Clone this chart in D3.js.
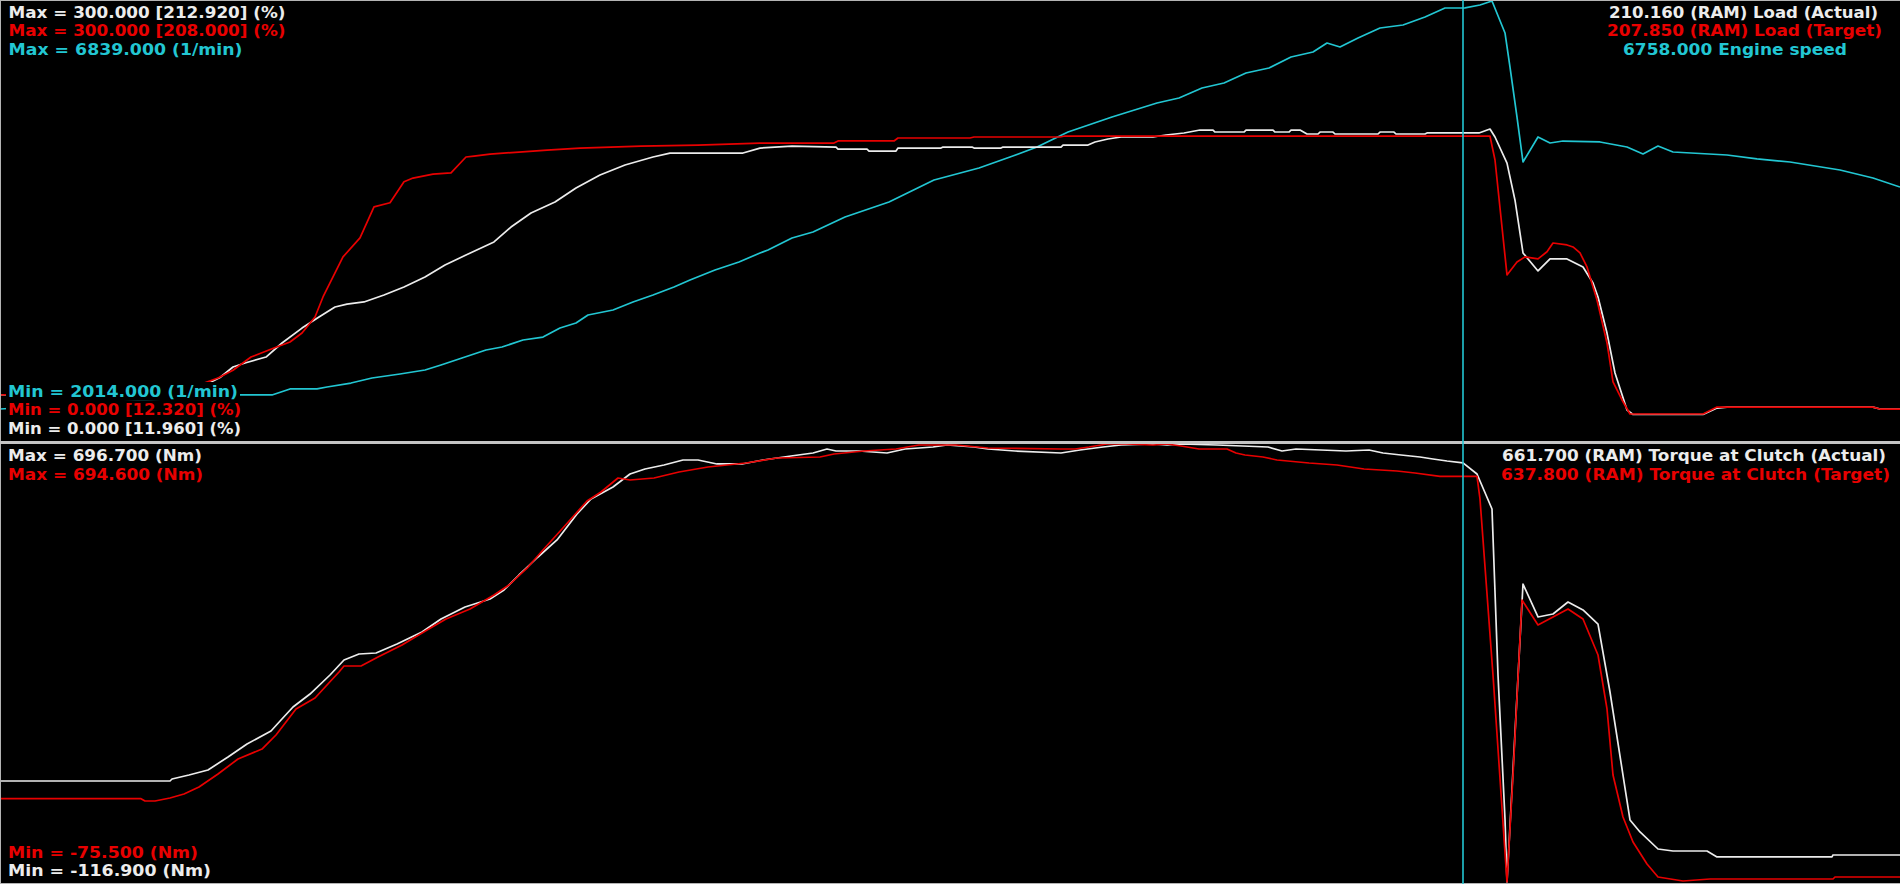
<!DOCTYPE html>
<html>
<head>
<meta charset="utf-8">
<script src="https://cdn.jsdelivr.net/npm/d3@7"></script>
<style>
  html, body { margin: 0; padding: 0; background: #000; overflow: hidden; }
  text { font-family: "DejaVu Sans", "Noto Sans", sans-serif; font-size: 15.5px; font-weight: bold; }
</style>
</head>
<body>
<div id="chart"></div>
<script>
// ---- data (time in s) ----
var loadTgtTime = [0, 2.0, 2.18, 2.33, 2.51, 2.74, 2.90, 3.02, 3.15, 3.23, 3.35, 3.43, 3.60, 3.74, 3.90, 4.04, 4.13, 4.33, 4.51, 4.66,
  4.74, 4.90, 5.19, 5.47, 5.80, 6.41, 6.98, 7.60, 8.34, 8.38, 8.94, 8.98, 9.70, 9.74, 10.60, 10.65, 14.90, 14.95, 15.07, 15.17,
  15.25, 15.38, 15.47, 15.53, 15.67, 15.73, 15.80, 15.87, 15.97, 16.07, 16.13, 16.22, 16.30, 17.03, 17.17, 18.73, 18.80, 19.0];
var loadTgt = [25.7, 33.0, 37.7, 43.1, 52.4, 58.8, 63.0, 69.3, 80.6, 94.7, 111.6, 122.9, 136.3, 158.1, 161.0, 175.8, 178.4, 181.2, 182.0, 193.2,
  193.9, 195.3, 196.7, 198.1, 199.5, 200.9, 201.6, 203.0, 203.0, 204.5, 204.5, 206.6, 206.6, 207.3, 207.3, 208.0, 207.85, 191.1, 110.2, 119.3,
  122.9, 121.5, 126.5, 132.7, 131.3, 129.9, 125.7, 115.8, 92.6, 62.3, 34.9, 22.2, 12.32, 12.32, 17.2, 17.2, 15.8, 15.8];

var loadActTime = [0, 2.0, 2.20, 2.33, 2.45, 2.66, 2.82, 3.02, 3.19, 3.35, 3.47, 3.64, 3.84, 4.04, 4.25, 4.45, 4.66, 4.94, 5.11, 5.31,
  5.55, 5.76, 6.00, 6.25, 6.53, 6.70, 7.43, 7.60, 7.92, 8.36, 8.38, 8.67, 8.69, 8.96, 8.98, 9.41, 9.43, 9.72, 9.74, 10.01,
  10.03, 10.61, 10.63, 10.88, 10.95, 11.08, 11.21, 11.53, 11.66, 11.84, 12.00, 12.13, 12.15, 12.44, 12.46, 12.73, 12.75, 12.89, 12.91, 13.00,
  13.07, 13.18, 13.20, 13.33, 13.35, 13.78, 13.80, 13.94, 13.96, 14.25, 14.27, 14.79, 14.90, 14.95, 15.07, 15.15, 15.23, 15.38, 15.50, 15.67,
  15.83, 15.93, 15.98, 16.07, 16.15, 16.27, 16.33, 17.03, 17.17, 17.27, 18.73, 18.80, 19.0];
var loadAct = [25.7, 31.0, 38.0, 45.4, 48.2, 52.4, 62.3, 72.8, 80.6, 87.6, 89.7, 91.2, 96.1, 101.7, 108.8, 117.2, 124.3, 133.4, 143.9, 153.8,
  161.5, 171.4, 180.5, 187.6, 193.2, 196.0, 196.0, 199.5, 200.9, 200.2, 198.8, 198.8, 197.4, 197.4, 199.5, 199.5, 200.2, 200.2, 199.5, 199.5,
  200.2, 200.2, 201.6, 201.6, 203.8, 205.9, 207.3, 207.3, 208.7, 210.1, 212.2, 212.2, 210.8, 210.8, 212.2, 212.2, 210.8, 210.8, 212.2, 212.2,
  209.4, 209.4, 210.8, 210.8, 209.4, 209.4, 210.8, 210.8, 209.4, 209.4, 210.16, 210.16, 212.92, 207.3, 188.9, 162.8, 125.7, 113.0, 121.5, 121.5,
  115.8, 104.5, 94.7, 69.3, 41.2, 15.1, 11.96, 11.96, 16.5, 17.2, 17.2, 15.8, 15.8];

var rpmTime = [0, 1.2, 2.25, 2.72, 2.90, 3.17, 3.27, 3.51, 3.72, 4.00, 4.25, 4.41, 4.62, 4.86, 5.02, 5.23, 5.43, 5.60, 5.76, 5.88,
  6.13, 6.33, 6.53, 6.74, 6.90, 7.15, 7.39, 7.60, 7.68, 7.92, 8.13, 8.45, 8.89, 9.34, 9.79, 10.10, 10.37, 10.68, 11.12, 11.57,
  11.79, 12.02, 12.24, 12.46, 12.69, 12.91, 13.13, 13.27, 13.40, 13.58, 13.80, 14.03, 14.25, 14.45, 14.65,
  14.80, 14.92, 15.05, 15.10, 15.17, 15.23, 15.38, 15.50, 15.63, 16.00, 16.27, 16.43, 16.58, 16.73, 17.27, 17.57, 17.90, 18.40, 18.73, 19.0];
var rpm = [2014, 2097, 2180, 2180, 2251, 2251, 2274, 2321, 2381, 2428, 2475, 2534, 2617, 2712, 2747, 2830, 2865, 2972, 3031, 3126,
  3185, 3279, 3362, 3457, 3540, 3658, 3752, 3859, 3894, 4036, 4107, 4285, 4462, 4722, 4864, 4994, 5112, 5290, 5467, 5633,
  5692, 5810, 5869, 5988, 6047, 6177, 6236, 6342, 6295, 6401, 6520, 6555, 6650, 6756, 6758,
  6792, 6839, 6461, 6058, 5467, 4935, 5231, 5160, 5183, 5172, 5112, 5030, 5124, 5053, 5018, 4971, 4935, 4840, 4746, 4639];

var tqActTime = [0, 1.70, 1.72, 1.89, 2.08, 2.28, 2.47, 2.71, 2.81, 2.93, 3.10, 3.30, 3.44, 3.59, 3.76, 3.97, 4.22, 4.41, 4.65, 4.90,
  5.04, 5.19, 5.38, 5.57, 5.77, 5.91, 6.13, 6.30, 6.45, 6.64, 6.83, 6.98, 7.17, 7.42, 7.63, 7.91, 8.13, 8.27, 8.36, 8.59,
  8.87, 9.05, 9.33, 9.47, 9.74, 9.88, 10.15, 10.61, 10.80, 11.03, 11.21, 11.53, 11.67, 11.81, 12.17, 12.68, 12.82, 12.96, 13.46, 13.69,
  13.83, 14.01, 14.20, 14.33, 14.47, 14.63, 14.77, 14.92, 14.98, 15.05, 15.07, 15.23, 15.38, 15.53, 15.68, 15.83, 15.98, 16.10, 16.30, 16.40,
  16.58, 16.73, 17.07, 17.17, 18.32, 18.33, 19.0];
var tqAct = [70.7, 70.7, 74.4, 81.9, 91.2, 115.3, 139.4, 163.6, 184.0, 208.2, 232.3, 267.6, 295.5, 306.6, 308.5, 325.2, 347.5, 371.6, 393.9, 408.8,
  425.5, 453.4, 486.8, 518.4, 566.7, 594.5, 616.8, 641.0, 650.3, 657.7, 667.0, 667.0, 659.6, 659.6, 667.0, 674.4, 680.0, 687.4, 683.7, 683.7,
  680.0, 687.4, 691.1, 694.8, 691.1, 687.4, 683.7, 680.0, 685.6, 691.1, 694.8, 696.7, 694.8, 696.7, 694.8, 691.1, 683.7, 687.4, 683.7, 685.6,
  680.0, 676.3, 672.6, 668.8, 665.1, 661.7, 641.0, 576.0, 267.6, 0.1, -116.9, 436.6, 375.4, 380.9, 403.2, 388.4, 362.3, 236.0, -1.7, -24.0,
  -55.6, -59.3, -59.3, -70.4, -70.4, -66.7, -66.7];

var tqTgtTime = [0, 1.41, 1.45, 1.55, 1.70, 1.84, 1.99, 2.18, 2.38, 2.62, 2.76, 2.96, 3.15, 3.39, 3.44, 3.61, 3.78, 4.02, 4.27, 4.46,
  4.70, 4.94, 5.09, 5.28, 5.43, 5.62, 5.87, 6.01, 6.18, 6.30, 6.54, 6.79, 7.08, 7.46, 7.77, 8.20, 8.34, 8.64, 8.96, 9.19,
  9.56, 9.88, 10.61, 10.75, 10.89, 11.07, 11.26, 11.53, 11.67, 11.81, 11.99, 12.27, 12.36, 12.45, 12.63, 12.77, 13.09, 13.37, 13.64, 13.97,
  14.15, 14.40, 14.77, 14.80, 14.93, 15.07, 15.13, 15.22, 15.38, 15.53, 15.68, 15.83, 15.98, 16.07, 16.13, 16.23, 16.33, 16.47, 16.58, 16.83,
  17.10, 18.33, 18.35, 19.0];
var tqTgt = [71.0, 71.0, 66.9, 66.9, 72.2, 79.2, 91.5, 114.4, 140.8, 158.3, 183.0, 228.7, 248.0, 293.7, 304.3, 304.3, 320.1, 341.2, 367.6, 386.9,
  404.5, 429.1, 446.7, 478.3, 508.2, 545.2, 594.4, 610.2, 634.8, 631.3, 634.8, 645.4, 654.2, 661.2, 670.0, 671.7, 677.0, 682.3, 685.8, 692.8,
  692.8, 687.6, 685.8, 685.8, 689.3, 694.6, 694.6, 692.8, 694.6, 691.1, 685.8, 685.8, 678.8, 675.3, 671.7, 666.5, 661.2, 657.7, 650.6, 647.1,
  643.6, 637.8, 637.8, 597.9, 288.5, -75.5, 112.6, 420.3, 376.4, 390.4, 404.5, 386.9, 323.6, 228.7, 112.6, 38.8, -5.2, -43.8, -66.7, -73.7,
  -70.2, -70.2, -66.7, -66.7];

var cursorTime = 14.63;

// axis limits shown in the labels
var loadDomain = [0, 300];
var rpmDomain = [2014, 6839];
var tqActDomain = [-116.9, 696.7];
var tqTgtDomain = [-75.5, 694.6];

// label texts
var topMaxText = ["Max = 300.000 [212.920] (%)", "Max = 300.000 [208.000] (%)", "Max = 6839.000 (1/min)"];
var topMinText = ["Min = 2014.000 (1/min)", "Min = 0.000 [12.320] (%)", "Min = 0.000 [11.960] (%)"];
var topCursorText = ["210.160 (RAM) Load (Actual)", "207.850 (RAM) Load (Target)", "6758.000 Engine speed"];
var botMaxText = ["Max = 696.700 (Nm)", "Max = 694.600 (Nm)"];
var botMinText = ["Min = -75.500 (Nm)", "Min = -116.900 (Nm)"];
var botCursorText = ["661.700 (RAM) Torque at Clutch (Actual)", "637.800 (RAM) Torque at Clutch (Target)"];

var WHITE = "#ececec", RED = "#e80000", CYAN = "#22c6d2";

var width = 1900, height = 884;

var svg = d3.select("#chart").append("svg")
  .attr("width", width)
  .attr("height", height)
  .style("display", "block")
  .style("background", "#000");

var x = d3.scaleLinear().domain([0, 19]).range([0, width]);
var yLoad = d3.scaleLinear().domain(loadDomain).range([431.5, 5.3]);
var yRpm = d3.scaleLinear().domain(rpmDomain).range([409, 1]);
var yTqAct = d3.scaleLinear().domain(tqActDomain).range([882, 444]);
var yTqTgt = d3.scaleLinear().domain(tqTgtDomain).range([882, 444]);

// clip each panel
var defs = svg.append("defs");
defs.append("clipPath").attr("id", "clipTop").append("rect")
  .attr("x", 0).attr("y", 0).attr("width", width).attr("height", 441);
defs.append("clipPath").attr("id", "clipBot").append("rect")
  .attr("x", 0).attr("y", 443).attr("width", width).attr("height", 441);

var gTop = svg.append("g").attr("clip-path", "url(#clipTop)");
var gBot = svg.append("g").attr("clip-path", "url(#clipBot)");

function drawSeries(g, times, values, yScale, color) {
  var line = d3.line()
    .x(function(d) { return x(d[0]); })
    .y(function(d) { return yScale(d[1]); });
  g.append("path")
    .datum(d3.zip(times, values))
    .attr("d", line)
    .attr("fill", "none")
    .attr("stroke", color)
    .attr("stroke-width", 1.7)
    .attr("stroke-linejoin", "round");
}

drawSeries(gTop, rpmTime, rpm, yRpm, CYAN);
drawSeries(gTop, loadActTime, loadAct, yLoad, WHITE);
drawSeries(gTop, loadTgtTime, loadTgt, yLoad, RED);

drawSeries(gBot, tqActTime, tqAct, yTqAct, WHITE);
drawSeries(gBot, tqTgtTime, tqTgt, yTqTgt, RED);

// frames
var frame = svg.append("g").attr("stroke", "#b4b4b4").attr("stroke-width", 1);
frame.append("line").attr("x1", 0).attr("x2", width).attr("y1", 0.5).attr("y2", 0.5);
frame.append("line").attr("x1", 0.5).attr("x2", 0.5).attr("y1", 0).attr("y2", height);
frame.append("line").attr("x1", 0).attr("x2", width).attr("y1", 883.5).attr("y2", 883.5);
svg.append("rect").attr("x", 0).attr("y", 441).attr("width", width).attr("height", 3).attr("fill", "#c4c4c4");

// labels with black background boxes
var labels = svg.append("g");
function label(txt, x0, baseline, w, color) {
  labels.append("rect")
    .attr("x", x0 - 2).attr("y", baseline - 14.5)
    .attr("width", w + 4).attr("height", 18.6)
    .attr("fill", "#000");
  labels.append("text")
    .attr("x", x0).attr("y", baseline)
    .attr("fill", color)
    .attr("textLength", w)
    .attr("lengthAdjust", "spacingAndGlyphs")
    .text(txt);
}

label(topMaxText[0], 8.5, 17.5, 277, WHITE);
label(topMaxText[1], 8.5, 36, 277, RED);
label(topMaxText[2], 8.5, 54.5, 234, CYAN);

label(topMinText[0], 8, 396.5, 230, CYAN);
label(topMinText[1], 8, 415, 233, RED);
label(topMinText[2], 8, 433.5, 233, WHITE);

label(topCursorText[0], 1609, 17.5, 269, WHITE);
label(topCursorText[1], 1607, 36, 275, RED);
label(topCursorText[2], 1623, 54.5, 224, CYAN);

label(botMaxText[0], 8, 461, 194, WHITE);
label(botMaxText[1], 8, 479.5, 195, RED);

label(botCursorText[0], 1502, 460.5, 384, WHITE);
label(botCursorText[1], 1501, 479.5, 389, RED);

label(botMinText[0], 8, 858, 190, RED);
label(botMinText[1], 8, 876, 203, WHITE);

// cursor
svg.append("line")
  .attr("x1", x(cursorTime)).attr("x2", x(cursorTime))
  .attr("y1", 0).attr("y2", height)
  .attr("stroke", CYAN)
  .attr("stroke-width", 1.6);
</script>
</body>
</html>
